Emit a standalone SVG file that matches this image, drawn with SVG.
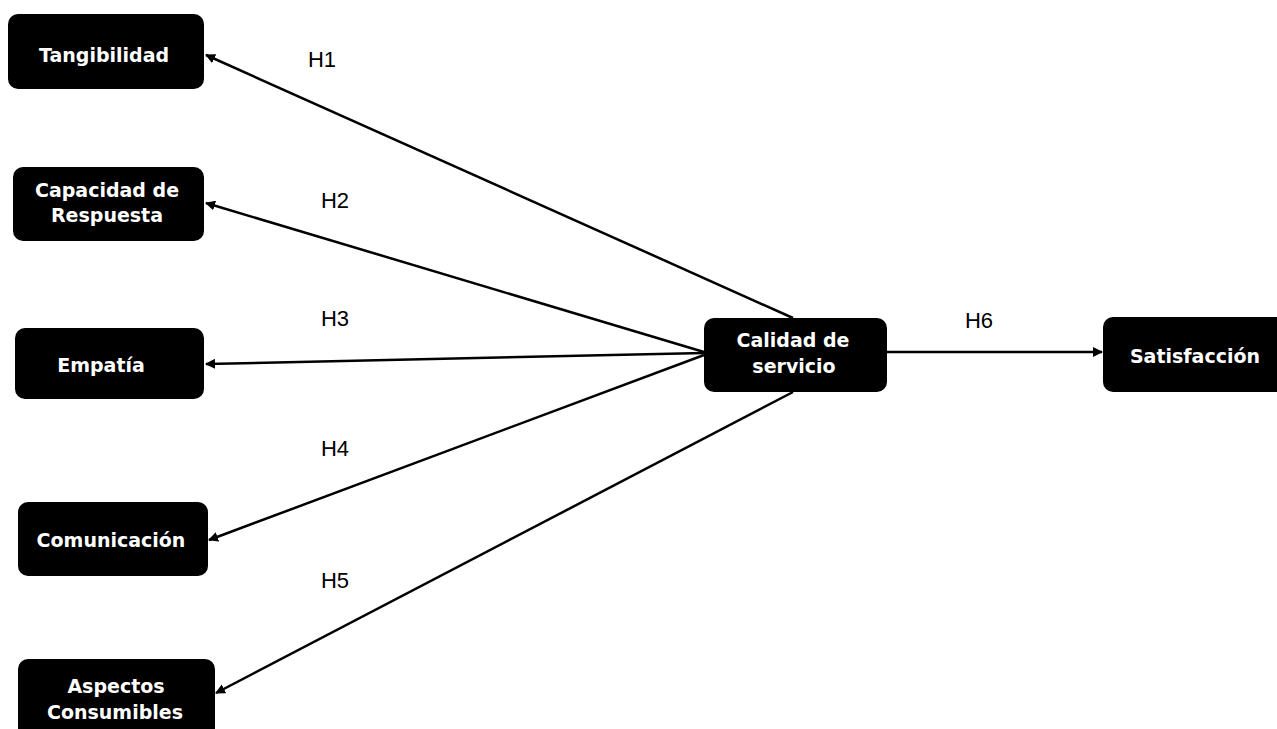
<svg xmlns="http://www.w3.org/2000/svg" width="1277" height="729" viewBox="0 0 1277 729">
<style>
.box{fill:#000;}
.t{font-family:"DejaVu Sans",Verdana,sans-serif;font-size:19px;font-weight:bold;fill:#fff;text-anchor:middle;}
.lbl{font-family:"Liberation Sans",Arial,sans-serif;font-size:22px;fill:#000;text-anchor:middle;}
.c{stroke:#000;stroke-width:2.5;fill:none;marker-end:url(#ah);}
</style>
<defs>
<marker id="ah" viewBox="0 0 10 10" refX="9" refY="5" markerWidth="4" markerHeight="4" orient="auto" markerUnits="strokeWidth">
<path d="M0,0 L10,5 L0,10 z" fill="#000"/>
</marker>
</defs>
<rect width="1277" height="729" fill="#fff"/>
<g id="connectors">
<line class="c" x1="793" y1="318" x2="206" y2="55"/>
<line class="c" x1="704" y1="352" x2="206" y2="203"/>
<line class="c" x1="704" y1="353" x2="206" y2="364"/>
<line class="c" x1="704" y1="355" x2="209" y2="540"/>
<line class="c" x1="793" y1="392" x2="216" y2="693"/>
<line class="c" x1="887" y1="352" x2="1102" y2="352"/>
<text class="lbl" x="322" y="67">H1</text>
<text class="lbl" x="335" y="208">H2</text>
<text class="lbl" x="335" y="326">H3</text>
<text class="lbl" x="335" y="456">H4</text>
<text class="lbl" x="335" y="588">H5</text>
<text class="lbl" x="979" y="328">H6</text>
</g>
<g id="tangibilidad">
<rect class="box" x="8" y="14" width="196" height="75" rx="10"/>
<text class="t" x="104" y="62">Tangibilidad</text>
</g>
<g id="capacidad">
<rect class="box" x="13" y="167" width="191" height="74" rx="10"/>
<text class="t" x="107" y="197">Capacidad de</text>
<text class="t" x="107" y="222">Respuesta</text>
</g>
<g id="empatia">
<rect class="box" x="15" y="328" width="189" height="71" rx="10"/>
<text class="t" x="101" y="372">Empatía</text>
</g>
<g id="comunicacion">
<rect class="box" x="18" y="502" width="190" height="74" rx="10"/>
<text class="t" x="111" y="547">Comunicación</text>
</g>
<g id="aspectos">
<rect class="box" x="18" y="659" width="197" height="80" rx="10"/>
<text class="t" x="116" y="693">Aspectos</text>
<text class="t" x="115" y="719">Consumibles</text>
</g>
<g id="calidad">
<rect class="box" x="704" y="318" width="183" height="74" rx="10"/>
<text class="t" x="793" y="347">Calidad de</text>
<text class="t" x="794" y="373">servicio</text>
</g>
<g id="satisfaccion">
<rect class="box" x="1103" y="317" width="184" height="75" rx="10"/>
<text class="t" x="1195" y="363">Satisfacción</text>
</g>
</svg>
